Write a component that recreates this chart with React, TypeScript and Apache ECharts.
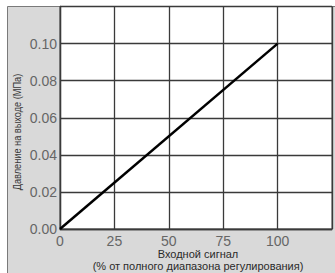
import React, { useEffect, useRef } from "react";
import * as echarts from "echarts";

const xTicks = [0, 25, 50, 75, 100, 125];
const yTicks = [0, 0.02, 0.04, 0.06, 0.08, 0.1, 0.12];
const inputSignal = [0, 100];
const outputPressure = [0, 0.1];
const xNameLines = ["Входной сигнал", "(% от полного диапазона регулирования)"];
const yName = "Давление на выходе (МПа)";

export default function App() {
  const ref = useRef<HTMLDivElement>(null);
  useEffect(() => {
    if (!ref.current) return;
    const chart = echarts.init(ref.current, null, { renderer: "svg" });
    const font = "Liberation Sans, Arial, sans-serif";
    chart.setOption({
      animation: false,
      backgroundColor: "#fff",
      textStyle: { fontFamily: font },
      graphic: [
        {
          type: "rect",
          z: -10,
          shape: { x: 7.5, y: 6.5, width: 340, height: 280 },
          style: { fill: "#d9d9d9", stroke: "#7a7a7a", lineWidth: 1 },
        },
        {
          type: "text",
          x: 17,
          y: 132,
          rotation: Math.PI / 2,
          scaleX: 0.8,
          style: {
            text: yName,
            fontSize: 11.5,
            fontFamily: font,
            fill: "#3a3a3a",
            align: "center",
            verticalAlign: "middle",
          },
        },
        ...xNameLines.map((t, i) => ({
          type: "text",
          x: 198,
          y: 254 + i * 12,
          style: {
            text: t,
            fontSize: 11,
            fontFamily: font,
            fill: "#2a2a2a",
            align: "center",
            verticalAlign: "middle",
          },
        })),
      ],
      grid: {
        left: 60,
        top: 6.5,
        width: 279,
        height: 222.5,
        show: true,
        backgroundColor: "#fff",
        borderColor: "#444",
        borderWidth: 1,
      },
      xAxis: {
        type: "value",
        min: 0,
        max: 125,
        interval: 25,
        axisLine: { show: true, lineStyle: { color: "#3a3a3a", width: 1.3 } },
        axisTick: { show: false },
        splitLine: { show: true, lineStyle: { color: "#3a3a3a", width: 1.3 } },
        axisLabel: {
          fontSize: 14,
          color: "#666",
          margin: 5,
          formatter: (v: number) => (xTicks.includes(v) && v !== 125 ? String(v) : ""),
        },
      },
      yAxis: {
        type: "value",
        min: yTicks[0],
        max: yTicks[yTicks.length - 1],
        interval: 0.02,
        axisLine: { show: true, lineStyle: { color: "#3a3a3a", width: 1.3 } },
        axisTick: { show: false },
        splitLine: { show: true, lineStyle: { color: "#3a3a3a", width: 1.3 } },
        axisLabel: {
          fontSize: 14,
          color: "#666",
          margin: 3,
          formatter: (v: number) => (v >= 0.119 ? "" : v.toFixed(2)),
        },
      },
      series: [
        {
          type: "line",
          data: inputSignal.map((x, i) => [x, outputPressure[i]]),
          showSymbol: false,
          lineStyle: { color: "#000", width: 2.5 },
        },
      ],
    });
    return () => chart.dispose();
  }, []);
  return (
    <div
      ref={ref}
      style={{ position: "fixed", left: 0, top: 0, width: 335, height: 273 }}
    />
  );
}
